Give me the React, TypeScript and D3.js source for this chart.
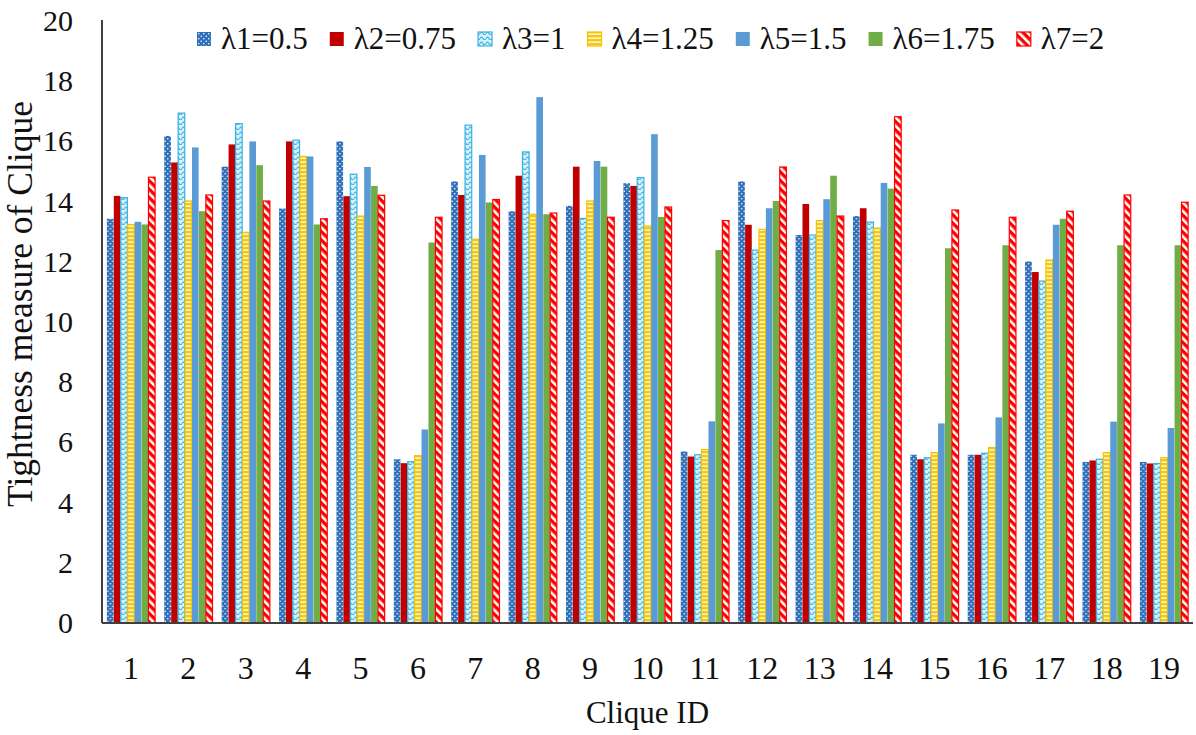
import React from 'react';
import * as d3 from 'd3';

const cliqueIds = ['1','2','3','4','5','6','7','8','9','10','11','12','13','14','15','16','17','18','19'];
const seriesLabels = ['λ1=0.5','λ2=0.75','λ3=1','λ4=1.25','λ5=1.5','λ6=1.75','λ7=2'];
const lambda1 = [13.43,16.18,15.16,13.77,16.0,5.44,14.67,13.68,13.86,14.61,5.70,14.67,12.89,13.52,5.59,5.59,12.01,5.35,5.35];
const lambda2 = [14.19,15.3,15.9,16.0,14.18,5.31,14.22,14.86,15.16,14.52,5.53,13.23,13.92,13.78,5.44,5.59,11.66,5.40,5.30];
const lambda3 = [14.13,16.94,16.59,16.04,14.91,5.36,16.54,15.65,13.44,14.8,5.59,12.39,12.89,13.32,5.49,5.64,11.36,5.44,5.30];
const lambda4 = [13.24,14.02,12.98,15.5,13.52,5.56,12.75,13.58,14.02,13.19,5.76,13.08,13.37,13.12,5.66,5.83,12.06,5.66,5.49];
const lambda5 = [13.33,15.8,16.0,15.5,15.15,6.43,15.55,17.47,15.35,16.24,6.7,13.78,14.08,14.62,6.63,6.83,13.23,6.69,6.48];
const lambda6 = [13.24,13.68,15.21,13.24,14.52,12.64,13.97,13.58,15.16,13.49,12.39,14.02,14.86,14.43,12.45,12.55,13.43,12.55,12.55];
const lambda7 = [14.81,14.22,14.02,13.43,14.21,13.48,14.07,13.62,13.48,13.82,13.37,15.15,13.52,16.82,13.72,13.48,13.68,14.22,13.98];
const seriesValues = [lambda1, lambda2, lambda3, lambda4, lambda5, lambda6, lambda7];
const yTicks = ['0','2','4','6','8','10','12','14','16','18','20'];

const W = 1196, H = 735;
const left = 102, right = 1193, top = 21, bottom = 623;
const FONT = 'Liberation Serif';

const styles = [
  { fill: 'url(#p1)', stroke: 'none' },
  { fill: '#C00000', stroke: 'none' },
  { fill: 'url(#p3)', stroke: '#38B2E3' },
  { fill: 'url(#p4)', stroke: '#F2C300' },
  { fill: '#5B9BD5', stroke: 'none' },
  { fill: '#70AD47', stroke: 'none' },
  { fill: 'url(#p7)', stroke: '#FF0000' },
];

function measure(text: string, font: string): number {
  if (typeof document === 'undefined') return text.length * 15;
  const c = document.createElement('canvas');
  const ctx = c.getContext('2d');
  if (!ctx) return text.length * 15;
  ctx.font = font;
  return ctx.measureText(text).width;
}

export default function App() {
  const x0 = d3.scaleBand<string>().domain(cliqueIds).range([left, right]).paddingInner(0.15).paddingOuter(0.08);
  const x1 = d3.scaleBand<number>().domain(d3.range(seriesLabels.length)).range([0, x0.bandwidth()]).padding(0.04);
  const y = d3.scaleLinear().domain([0, 20]).range([bottom, top]);

  const legendFont = `31px "Liberation Serif"`;
  let lx = 197;
  const legendItems = seriesLabels.map((lab, i) => {
    const item = { x: lx, label: lab, i };
    lx += 46 + measure(lab, legendFont);
    return item;
  });

  return (
    <svg width={W} height={H} style={{ position: 'absolute', left: 0, top: 0, background: '#fff' }} fontFamily={FONT}>
      <defs>
        <pattern id="p1" width="5" height="5" patternUnits="userSpaceOnUse">
          <rect width="5" height="5" fill="#2E6FBA" />
          <circle cx="1.25" cy="1.25" r="0.8" fill="#fff" />
          <circle cx="3.75" cy="3.75" r="0.8" fill="#fff" />
        </pattern>
        <pattern id="p3" width="6" height="5" patternUnits="userSpaceOnUse">
          <rect width="6" height="5" fill="#D9F1FB" />
          <path d="M0 3.5 Q1.5 0.8 3 3.5 T6 3.5" stroke="#38B2E3" strokeWidth="1.2" fill="none" />
        </pattern>
        <pattern id="p4" width="6" height="4" patternUnits="userSpaceOnUse">
          <rect width="6" height="4" fill="#F5C80F" />
          <rect y="1.4" width="6" height="1.5" fill="#FFF8D8" />
        </pattern>
        <pattern id="p7" width="6" height="6" patternUnits="userSpaceOnUse" patternTransform="rotate(-45)">
          <rect width="6" height="6" fill="#FF0000" />
          <rect width="2.6" height="6" fill="#FFFFFF" />
        </pattern>
      </defs>

      {cliqueIds.map((id, ci) => (
        <g key={id} transform={`translate(${x0(id)},0)`}>
          {seriesValues.map((vals, si) => {
            const st = styles[si];
            const v = vals[ci];
            return (
              <rect key={si} x={x1(si)!} y={y(v)} width={x1.bandwidth()} height={bottom - y(v)}
                fill={st.fill} stroke={st.stroke} strokeWidth={st.stroke === 'none' ? 0 : 1.2} />
            );
          })}
        </g>
      ))}

      <line x1={left} x2={left} y1={top - 1} y2={bottom} stroke="#404040" strokeWidth={2} />
      <line x1={left} x2={right} y1={bottom} y2={bottom} stroke="#404040" strokeWidth={2} />

      {yTicks.map(t => (
        <text key={t} x={73} y={y(+t) + 10} textAnchor="end" fontSize={30} fill="#111">{t}</text>
      ))}
      {cliqueIds.map(id => (
        <text key={id} x={x0(id)! + x0.bandwidth() / 2} y={679} textAnchor="middle" fontSize={32} fill="#111">{id}</text>
      ))}

      <text x={(left + right) / 2} y={723} textAnchor="middle" fontSize={31} fill="#111">Clique ID</text>
      <text transform={`translate(32,304) rotate(-90)`} textAnchor="middle" fontSize={35.5} fill="#111">Tightness measure of Clique</text>

      {legendItems.map(it => (
        <g key={it.label}>
          <rect x={it.x} y={32} width={14} height={14} fill={styles[it.i].fill}
            stroke={styles[it.i].stroke} strokeWidth={styles[it.i].stroke === 'none' ? 0 : 1.2} />
          <text x={it.x + 24} y={49} fontSize={31} fill="#111">{it.label}</text>
        </g>
      ))}
    </svg>
  );
}
